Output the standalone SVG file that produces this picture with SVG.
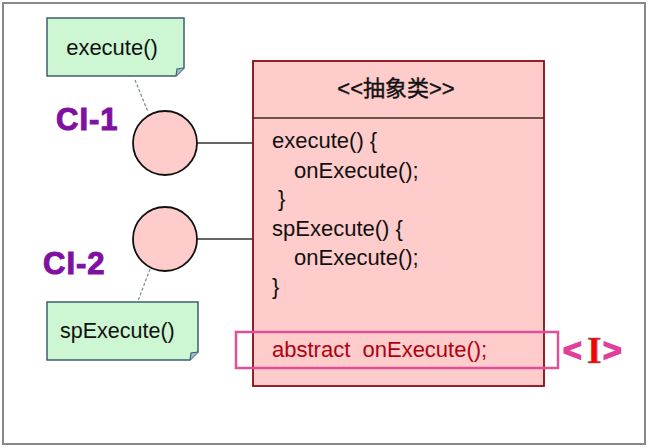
<svg xmlns="http://www.w3.org/2000/svg" width="650" height="448" viewBox="0 0 650 448">
<style>
.t{font-family:"Liberation Sans",Arial,sans-serif;font-size:22px;fill:#111;white-space:pre}
.ci{font-family:"Liberation Sans",Arial,sans-serif;font-size:31px;font-weight:bold;fill:#8010A0;stroke:#8010A0;stroke-width:1;letter-spacing:1px}
.note{fill:#CCF7D2;stroke:#3F5F6F;stroke-width:1.5}
.iface{fill:#FFCCCC;stroke:#111;stroke-width:1.8}
.conn{stroke:#333;stroke-width:1.3;fill:none}
.dash{stroke:#7A8A99;stroke-width:1.2;stroke-dasharray:3,2;fill:none}
.chev{font-family:"Liberation Sans",Arial,sans-serif;font-size:32px;font-weight:bold;fill:#E0409A;stroke:#E0409A;stroke-width:1.6}
</style>
<rect x="0" y="0" width="650" height="448" fill="#fff"/>
<rect x="3" y="3" width="642" height="441" fill="#fff" stroke="#888" stroke-width="2"/>
<g id="connectors">
<line class="conn" x1="197" y1="143" x2="253" y2="143"/>
<line class="conn" x1="197" y1="239" x2="253" y2="239"/>
<line class="dash" x1="135" y1="80" x2="148" y2="112"/>
<line class="dash" x1="150" y1="269" x2="138" y2="301"/>
</g>
<g id="note1">
<path class="note" d="M47,18 H184 V68 L176,76 H47 Z"/>
<path d="M176,76 L177,69 L184,68" fill="#9FC0C8" stroke="#3F5F6F" stroke-width="1.2"/>
<text class="t" x="112" y="55" text-anchor="middle">execute()</text>
</g>
<g id="note2">
<path class="note" d="M47,302 H198 V352 L190,360 H47 Z"/>
<path d="M190,360 L191,353 L198,352" fill="#9FC0C8" stroke="#3F5F6F" stroke-width="1.2"/>
<text class="t" x="60" y="338" style="font-size:21.5px">spExecute()</text>
</g>
<g id="ci1">
<circle class="iface" cx="165" cy="143" r="32"/>
<text class="ci" x="56" y="130">CI-1</text>
</g>
<g id="ci2">
<circle class="iface" cx="165" cy="239" r="32"/>
<text class="ci" x="43" y="274">CI-2</text>
</g>
<g id="abstractClass">
<rect x="253" y="61" width="291" height="325" fill="#FFCCCC" stroke="#8B0A14" stroke-width="1.8"/>
<line x1="253" y1="118" x2="544" y2="118" stroke="#3A2A2A" stroke-width="1.3"/>
<text class="t" x="396" y="96" text-anchor="middle" style="font-family:'Liberation Sans','Noto Sans CJK SC',sans-serif;font-size:22px;stroke:#111;stroke-width:0.4">&lt;&lt;抽象类&gt;&gt;</text>
<text class="t" x="272" y="148">execute() {</text>
<text class="t" x="294" y="178">onExecute();</text>
<text class="t" x="278" y="206">}</text>
<text class="t" x="272" y="236">spExecute() {</text>
<text class="t" x="294" y="265">onExecute();</text>
<text class="t" x="272" y="294">}</text>
<text class="t" x="272" y="357" style="fill:#B00010">abstract  onExecute();</text>
</g>
<g id="highlight">
<rect x="236" y="332" width="322" height="36" fill="none" stroke="#E0509A" stroke-width="2.5"/>
<text class="chev" x="563" y="361">&lt;</text>
<text x="587" y="363" font-family="'Liberation Serif','Times New Roman',serif" font-size="37" font-weight="bold" fill="#FF0000" stroke="#8A6A5A" stroke-width="0.6">I</text>
<text class="chev" x="603" y="361">&gt;</text>
</g>
</svg>
